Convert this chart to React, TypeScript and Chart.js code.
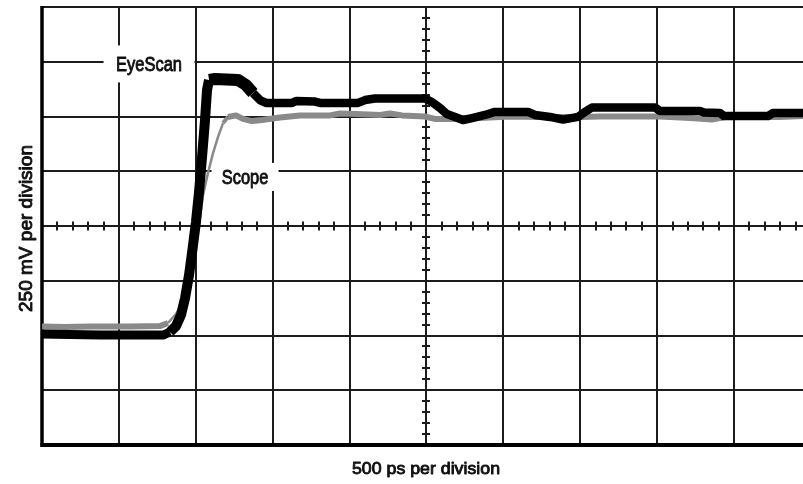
import React, { useEffect, useRef } from "react";
import { Chart, registerables } from "chart.js";

Chart.register(...registerables);

// ---- data (time in ps, amplitude in mV) ----
const eyeScanTime = [
  0, 182, 377, 637, 787, 832, 871, 904, 930, 956, 982, 1001, 1021, 1040, 1060, 1073, 1086, 1125,
  1274, 1326, 1372, 1417, 1456, 1626, 1652, 1775, 1808, 2055, 2100, 2165, 2490, 2536, 2588, 2633,
  2685, 2737, 2796, 2880, 2945, 3160, 3205, 3303, 3388, 3485, 3531, 3576, 3986, 4018, 4278, 4304,
  4408, 4434, 4720, 4753, 4948,
];
const eyeScanMv = [
  -493, -495, -498, -498, -498, -484, -457, -406, -329, -224, -87, 18, 155, 310, 484, 621, 667, 671,
  667, 644, 607, 575, 562, 562, 571, 568, 562, 562, 575, 582, 582, 566, 539, 511,
  498, 484, 493, 507, 521, 521, 507, 498, 486, 498, 521, 541, 541, 525, 525, 518,
  516, 502, 502, 516, 516,
];
const scopeTime = [
  0, 150, 312, 572, 767, 819, 871, 923, 962, 1001, 1027, 1047, 1079, 1112, 1144, 1177, 1209, 1261,
  1307, 1365, 1430, 1547, 1678, 1873, 1938, 2003, 2198, 2263, 2341, 2490, 2555, 2653, 2848, 3043,
  3238, 3498, 3628, 4018, 4213, 4356, 4441, 4798, 4948,
];
const scopeMv = [
  -459, -461, -459, -459, -457, -443, -402, -338, -256, -87, 37, 142, 242, 333, 406, 470, 498, 505,
  489, 479, 484, 495, 505, 505, 514, 512, 507, 514, 505, 500, 489, 489, 493, 500,
  498, 498, 500, 500, 493, 486, 498, 498, 502,
];

const seriesNames = ["EyeScan", "Scope"];
const labelTime = [696, 1320];
const labelMv = [740, 224];

const xAxisTitle = "500 ps per division";
const yAxisTitle = "250 mV per division";

const xGridTicks = [0, 500, 1000, 1500, 2000, 2500, 3000, 3500, 4000, 4500];
const yGridTicks = [-1000, -750, -500, -250, 0, 250, 500, 750, 1000];

const X_MIN = 0;
const X_MAX = 4948;
const X_MINOR = 100;
const Y_MIN = -1000;
const Y_MAX = 1000;
const Y_MINOR = 50;
const CENTER_TIME = 2500;

const GRID = "#1c1c1c";
const FONT = "'Liberation Sans', Arial, Helvetica, sans-serif";

function fitText(
  ctx: CanvasRenderingContext2D,
  text: string,
  x: number,
  baseline: number,
  size: number,
  width: number,
  angle = 0
) {
  ctx.save();
  ctx.translate(x, baseline);
  ctx.rotate(angle);
  ctx.font = `${size}px ${FONT}`;
  ctx.textAlign = "center";
  ctx.textBaseline = "alphabetic";
  const w = ctx.measureText(text).width;
  ctx.scale(width / w, 1);
  ctx.fillStyle = "#111";
  ctx.strokeStyle = "#111";
  ctx.lineWidth = 0.9;
  ctx.lineJoin = "round";
  ctx.fillText(text, 0, 0);
  ctx.strokeText(text, 0, 0);
  ctx.restore();
}

const decorPlugin = {
  id: "scopeDecor",
  beforeDatasetsDraw(chart: any) {
    const ctx: CanvasRenderingContext2D = chart.ctx;
    const xs = chart.scales.x;
    const ys = chart.scales.y;
    const a = chart.chartArea;
    ctx.save();
    ctx.strokeStyle = GRID;
    ctx.lineWidth = 2;
    ctx.lineCap = "butt";

    // minor ticks on the centre cross
    const y0 = Math.round(ys.getPixelForValue(0));
    for (let t = X_MIN; t <= X_MAX; t += X_MINOR) {
      const px = Math.round(xs.getPixelForValue(t));
      ctx.beginPath();
      ctx.moveTo(px, y0 - 4.5);
      ctx.lineTo(px, y0 + 4.5);
      ctx.stroke();
    }
    const x0 = Math.round(xs.getPixelForValue(CENTER_TIME));
    for (let v = Y_MIN; v <= Y_MAX; v += Y_MINOR) {
      const py = Math.round(ys.getPixelForValue(v));
      ctx.beginPath();
      ctx.moveTo(x0 - 4, py);
      ctx.lineTo(x0 + 4, py);
      ctx.stroke();
    }

    // frame: heavy left and bottom edges
    ctx.strokeStyle = "#000";
    ctx.lineWidth = 3.5;
    ctx.beginPath();
    ctx.moveTo(a.left, a.top - 1);
    ctx.lineTo(a.left, a.bottom + 2);
    ctx.stroke();
    ctx.lineWidth = 4;
    ctx.beginPath();
    ctx.moveTo(a.left - 1.5, a.bottom);
    ctx.lineTo(a.right, a.bottom);
    ctx.stroke();

    // label boxes (white) and texts
    const boxes = [
      { hw: 45.5, hh: 18.5 },
      { hw: 33.5, hh: 14 },
    ];
    const widths = [66, 46.6];
    seriesNames.forEach((name, i) => {
      const cx = xs.getPixelForValue(labelTime[i]);
      const cy = ys.getPixelForValue(labelMv[i]);
      ctx.fillStyle = "#fff";
      ctx.fillRect(cx - boxes[i].hw, cy - boxes[i].hh, boxes[i].hw * 2, boxes[i].hh * 2);
      fitText(ctx, name, cx, cy + 7.2, 20, widths[i]);
    });

    // axis titles
    fitText(ctx, xAxisTitle, 426, a.bottom + 29, 17.2, 148);
    fitText(ctx, yAxisTitle, 32, 228.5, 18.7, 167, -Math.PI / 2);
    ctx.restore();
  },
};

export default function App() {
  const canvasRef = useRef<HTMLCanvasElement | null>(null);

  useEffect(() => {
    const canvas = canvasRef.current;
    if (!canvas) return;
    const eyeData = eyeScanTime.map((t, i) => ({ x: t, y: eyeScanMv[i] }));
    const scopeData = scopeTime.map((t, i) => ({ x: t, y: scopeMv[i] }));

    const chart = new Chart(canvas, {
      type: "line",
      data: {
        datasets: [
          {
            label: seriesNames[0],
            data: eyeData,
            borderColor: "#000",
            borderWidth: 8.5,
            pointRadius: 0,
            tension: 0,
            borderJoinStyle: "round",
            borderCapStyle: "butt",
            order: 0,
            segment: {
              borderWidth: (c: any) => {
                const i = c.p0DataIndex;
                if (i >= 16 && i <= 19) return 12;
                if (i >= 5 && i < 16) return 10;
                if (i < 5) return 9;
                return 8.5;
              },
            },
          },
          {
            label: seriesNames[1],
            data: scopeData,
            borderColor: "#8a8a8a",
            borderWidth: 6,
            pointRadius: 0,
            tension: 0,
            borderJoinStyle: "round",
            borderCapStyle: "butt",
            order: 1,
            segment: {
              borderWidth: (c: any) => {
                const i = c.p0DataIndex;
                if (i >= 5 && i < 15) return 2.5;
                if (i === 15) return 4;
                return 6;
              },
            },
          },
        ],
      },
      options: {
        animation: false,
        responsive: false,
        devicePixelRatio: 1,
        layout: { padding: { left: 42, top: 7, right: 0, bottom: 39 } },
        plugins: {
          legend: { display: false },
          tooltip: { enabled: false },
          title: { display: false },
        },
        scales: {
          x: {
            type: "linear",
            min: X_MIN,
            max: X_MAX,
            afterBuildTicks: (scale: any) => {
              scale.ticks = xGridTicks.map((v) => ({ value: v }));
            },
            ticks: { display: false },
            grid: { drawTicks: false, lineWidth: 2, color: GRID },
            border: { display: false },
          },
          y: {
            type: "linear",
            min: Y_MIN,
            max: Y_MAX,
            afterBuildTicks: (scale: any) => {
              scale.ticks = yGridTicks.map((v) => ({ value: v }));
            },
            ticks: { display: false },
            grid: { drawTicks: false, lineWidth: 2, color: GRID },
            border: { display: false },
          },
        },
      },
      plugins: [decorPlugin],
    });
    return () => chart.destroy();
  }, []);

  return (
    <div style={{ position: "absolute", left: 0, top: 0, width: 803, height: 484, background: "#fff" }}>
      <canvas ref={canvasRef} width={803} height={484} style={{ display: "block" }} />
    </div>
  );
}
